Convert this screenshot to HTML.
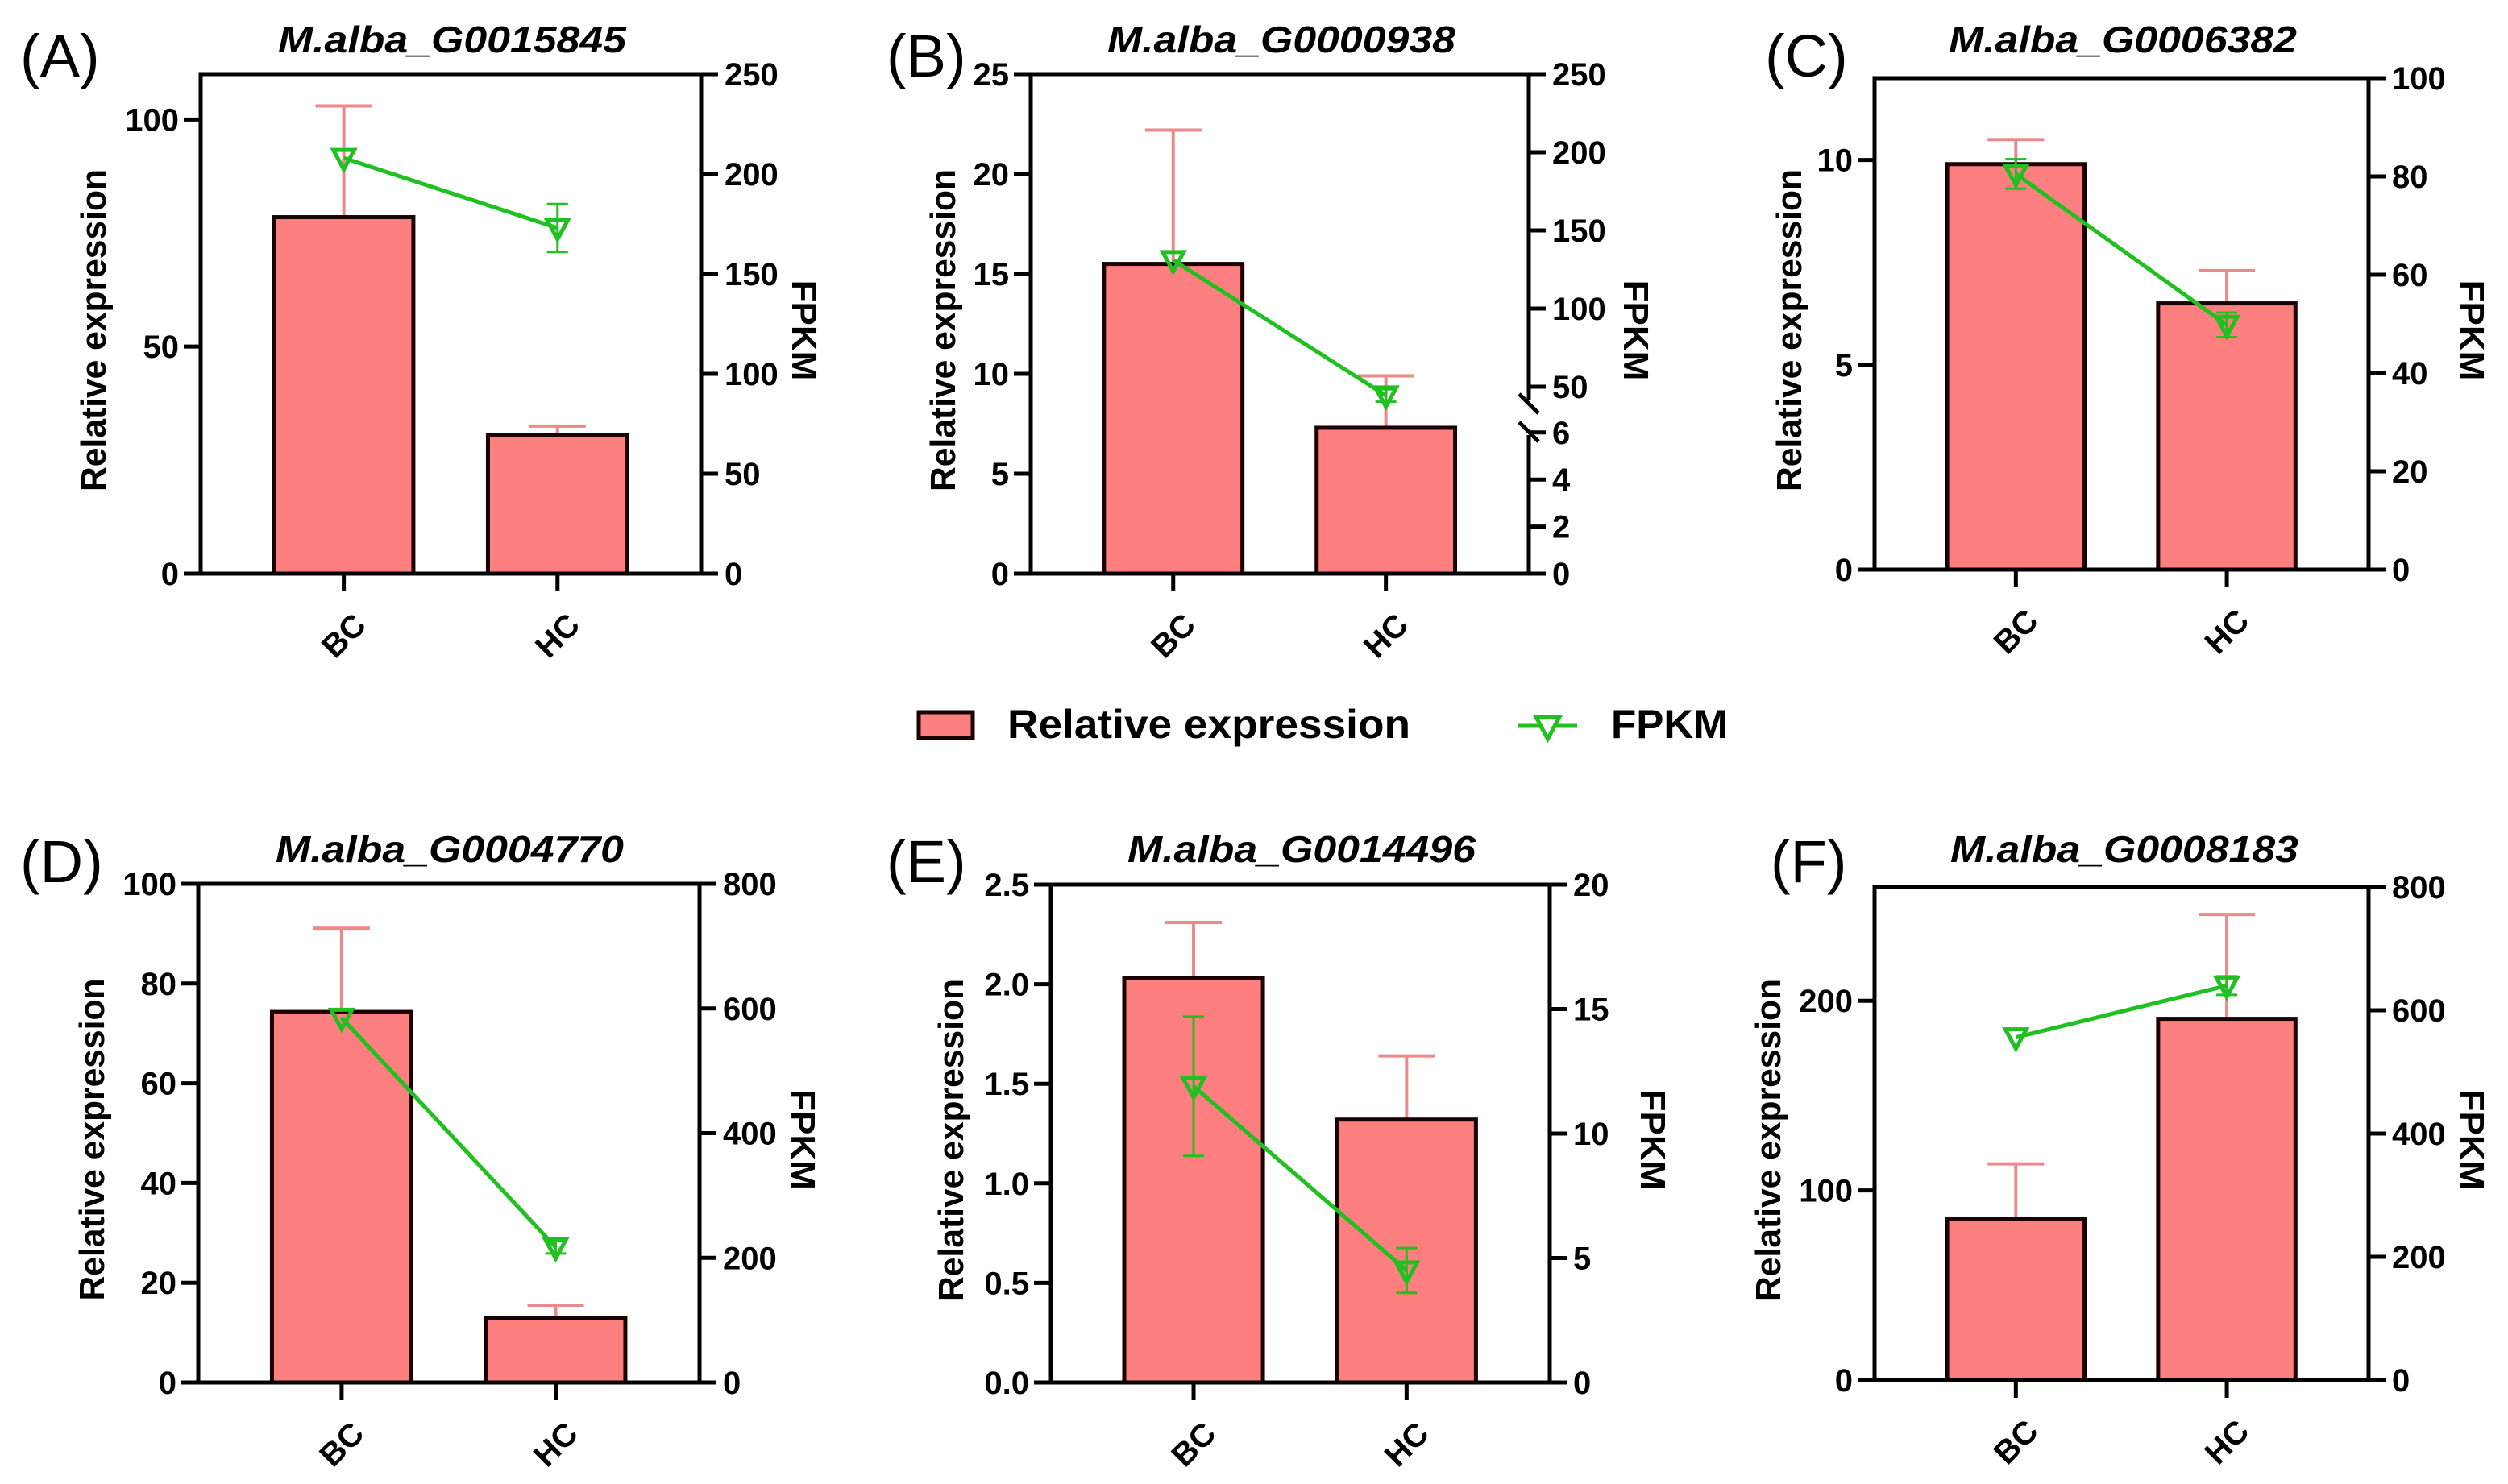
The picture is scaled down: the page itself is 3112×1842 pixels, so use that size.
<!DOCTYPE html>
<html><head><meta charset="utf-8"><style>
html,body{margin:0;padding:0;background:#fff;}
svg{display:block;font-family:"Liberation Sans",Arial,sans-serif;}
</style></head><body>
<svg id="fig" width="3112" height="1842" viewBox="0 0 3112 1842" xmlns="http://www.w3.org/2000/svg">
<g id="legend">
  <g>
    <rect x="1140" y="884" width="67" height="32" fill="#fd7f7f" stroke="#1a0000" stroke-width="5"/>
    <text x="1250" y="916" font-size="50" font-weight="bold" textLength="500" lengthAdjust="spacingAndGlyphs">Relative expression</text>
  </g>
  <g>
    <line x1="1884" y1="901" x2="1957" y2="901" stroke="#1fc01f" stroke-width="5"/>
    <polygon points="1906,890 1935,890 1920.5,917" fill="#fff" stroke="#1fc01f" stroke-width="5"/>
    <text x="1999" y="916" font-size="50" font-weight="bold" textLength="145" lengthAdjust="spacingAndGlyphs">FPKM</text>
  </g>
</g>
</svg>
<script>
const categories = ["BC", "HC"];
const geneTitles = ["M.alba_G0015845","M.alba_G0000938","M.alba_G0006382","M.alba_G0004770","M.alba_G0014496","M.alba_G0008183"];
const panelLetters = ["(A)","(B)","(C)","(D)","(E)","(F)"];

const relA = [78.5, 30.5];   const relSdA = [24.5, 2.0];
const fpkmA = [208, 173];    const fpkmSdA = [0, 12];
const relB = [15.5, 7.3];    const relSdB = [6.7, 2.6];
const fpkmB = [131, 44.4];   const fpkmSdB = [0, 4];
const relC = [9.9, 6.5];     const relSdC = [0.6, 0.8];
const fpkmC = [80.5, 49.8];  const fpkmSdC = [3, 2.5];
const relD = [74.3, 13.0];   const relSdD = [16.8, 2.5];
const fpkmD = [585, 217];    const fpkmSdD = [0, 10];
const relE = [2.03, 1.32];   const relSdE = [0.28, 0.32];
const fpkmE = [11.9, 4.5];   const fpkmSdE = [2.8, 0.9];
const relF = [85, 190.5];    const relSdF = [29, 55];
const fpkmF = [556, 640];    const fpkmSdF = [0, 15];

const leftTicksA = [0, 50, 100];            const rightTicksA = [0, 50, 100, 150, 200, 250];
const leftTicksB = [0, 5, 10, 15, 20, 25];  const rightTicksB = [0, 2, 4, 6, 50, 100, 150, 200, 250];
const leftTicksC = [0, 5, 10];              const rightTicksC = [0, 20, 40, 60, 80, 100];
const leftTicksD = [0, 20, 40, 60, 80, 100]; const rightTicksD = [0, 200, 400, 600, 800];
const leftTicksE = [0, 0.5, 1.0, 1.5, 2.0, 2.5]; const rightTicksE = [0, 5, 10, 15, 20];
const leftTicksF = [0, 100, 200];           const rightTicksF = [0, 200, 400, 600, 800];
const leftMaxes = [110, 25, 12, 100, 2.5, 260];
const rightMaxes = [250, 250, 100, 800, 20, 800];

const panels = [
  {rel:relA, relSd:relSdA, fpkm:fpkmA, fpkmSd:fpkmSdA, lt:leftTicksA, rt:rightTicksA, dec:0},
  {rel:relB, relSd:relSdB, fpkm:fpkmB, fpkmSd:fpkmSdB, lt:leftTicksB, rt:rightTicksB, dec:0, broken:true},
  {rel:relC, relSd:relSdC, fpkm:fpkmC, fpkmSd:fpkmSdC, lt:leftTicksC, rt:rightTicksC, dec:0},
  {rel:relD, relSd:relSdD, fpkm:fpkmD, fpkmSd:fpkmSdD, lt:leftTicksD, rt:rightTicksD, dec:0},
  {rel:relE, relSd:relSdE, fpkm:fpkmE, fpkmSd:fpkmSdE, lt:leftTicksE, rt:rightTicksE, dec:1},
  {rel:relF, relSd:relSdF, fpkm:fpkmF, fpkmSd:fpkmSdF, lt:leftTicksF, rt:rightTicksF, dec:0}
];
const layout = [
  {l:249, r:870, t:92, b:712, tx:561, ty:65, lx:25, ly:95, yt:-133, ft:128},
  {l:1279, r:1897, t:92, b:712, tx:1590, ty:65, lx:1100, ly:95, yt:-109, ft:133},
  {l:2326, r:2939, t:97, b:707, tx:2634, ty:65, lx:2190, ly:95, yt:-106, ft:128},
  {l:246, r:868, t:1097, b:1716, tx:558, ty:1070, lx:25, ly:1095, yt:-132, ft:128},
  {l:1304, r:1923, t:1098, b:1716, tx:1615, ty:1070, lx:1100, ly:1095, yt:-124, ft:128},
  {l:2326, r:2939, t:1101, b:1713, tx:2636, ty:1070, lx:2197, ly:1095, yt:-132, ft:128}
];

const NS = "http://www.w3.org/2000/svg";
const svg = document.getElementById("fig");
const BAR_FILL = "#fd7f7f", ERR = "#ea8a8a", GREEN = "#1fc01f";
function mk(tag, attrs, parent) {
  const e = document.createElementNS(NS, tag);
  for (const k in attrs) e.setAttribute(k, attrs[k]);
  parent.appendChild(e);
  return e;
}

panels.forEach((p, pi) => {
  const L = layout[pi];
  const g = mk("g", {}, svg);
  
  
  const w = L.r - L.l;
  const yL = v => L.b - v / leftMaxes[pi] * (L.b - L.t);
  let yR;
  if (p.broken) {
    const lowStep = 29.2, upZero = 480, upStep = 97 / 50;
    yR = v => v < 10 ? L.b - v * lowStep : upZero - (v - 50) * upStep;
  } else {
    yR = v => L.b - v / rightMaxes[pi] * (L.b - L.t);
  }
  const xC = i => L.l + w * (0.286 + i * 0.427);
  const bw = w * 0.278;

  categories.forEach((c, i) => {
    const top = yL(p.rel[i]);
    const eTop = yL(p.rel[i] + p.relSd[i]);
    const el = mk("line", {x1:xC(i), y1:top, x2:xC(i), y2:eTop, stroke:ERR, "stroke-width":4}, g);
    
    
    const cap = mk("line", {x1:xC(i)-35, y1:eTop, x2:xC(i)+35, y2:eTop, stroke:ERR, "stroke-width":4}, g);
    
    
    const bar = mk("rect", {x:xC(i)-bw/2, y:top, width:bw, height:L.b-top, fill:BAR_FILL, stroke:"#1a0000", "stroke-width":5}, g);
    
    
  });

  const ax = mk("path", {d:`M${L.l},${L.b} L${L.l},${L.t} L${L.r},${L.t} L${L.r},${L.b}`, fill:"none", stroke:"#000", "stroke-width":5}, g);
  
  
  if (p.broken) {
    ax.setAttribute("d", `M${L.l},${L.b} L${L.l},${L.t} L${L.r},${L.t} L${L.r},496 M${L.r},540 L${L.r},${L.b}`);
    mk("line", {x1:L.r-12, y1:489, x2:L.r+12, y2:513, stroke:"#000", "stroke-width":5}, g);
    mk("line", {x1:L.r-12, y1:524, x2:L.r+12, y2:548, stroke:"#000", "stroke-width":5}, g);
  }
  const base = mk("line", {x1:L.l-21, y1:L.b, x2:L.r+21, y2:L.b, stroke:"#000", "stroke-width":5}, g);
  
  

  p.lt.forEach(v => {
    const y = yL(v);
    mk("line", {x1:L.l-21, y1:y, x2:L.l, y2:y, stroke:"#000", "stroke-width":5}, g);
    const t = mk("text", {x:L.l-27, y:y+14, "font-size":40, "font-weight":"bold", "text-anchor":"end"}, g);
    t.textContent = v.toFixed(p.dec);
    
    
  });
  p.rt.forEach(v => {
    const y = yR(v);
    mk("line", {x1:L.r, y1:y, x2:L.r+21, y2:y, stroke:"#000", "stroke-width":5}, g);
    const t = mk("text", {x:L.r+29, y:y+14, "font-size":40, "font-weight":"bold"}, g);
    t.textContent = String(v);
    
    
  });
  categories.forEach((c, i) => {
    mk("line", {x1:xC(i), y1:L.b, x2:xC(i), y2:L.b+22, stroke:"#000", "stroke-width":5}, g);
    const px = xC(i) + 30, py = L.b + 66;
    const t = mk("text", {x:px, y:py, "font-size":40, "font-weight":"bold", "text-anchor":"end", transform:`rotate(-45 ${px} ${py})`}, g);
    t.textContent = c;
    
    
  });

  const pts = categories.map((c, i) => [xC(i), yR(p.fpkm[i])]);
  const ln = mk("polyline", {points:pts.map(q => q.join(",")).join(" "), fill:"none", stroke:GREEN, "stroke-width":5}, g);
  
  
  categories.forEach((c, i) => {
    const sd = p.fpkmSd[i];
    if (sd > 0) {
      const y1 = yR(p.fpkm[i] + sd), y2 = yR(p.fpkm[i] - sd), x = xC(i);
      const eb = mk("path", {d:`M${x},${y1} L${x},${y2} M${x-13},${y1} L${x+13},${y1} M${x-13},${y2} L${x+13},${y2}`, fill:"none", stroke:GREEN, "stroke-width":3}, g);
      
      
    }
    const [x, y] = pts[i];
    const m = mk("polygon", {points:`${x-13},${y-10} ${x+13},${y-10} ${x},${y+14}`, fill:"none", stroke:GREEN, "stroke-width":5}, g);
    
    
  });

  const tt = mk("text", {x:L.tx, y:L.ty, "font-size":46, "font-weight":"bold", "font-style":"italic", "text-anchor":"middle", textLength:432, lengthAdjust:"spacingAndGlyphs"}, g);
  tt.textContent = geneTitles[pi];
  
  
  const lt = mk("text", {x:L.lx, y:L.ly, "font-size":74}, g);
  lt.textContent = panelLetters[pi];
  
  
  const cy = (L.t + L.b) / 2 + 8;
  const ylx = L.l + L.yt;
  const yt = mk("text", {x:ylx, y:cy, "font-size":44, "font-weight":"bold", "text-anchor":"middle", transform:`rotate(-90 ${ylx} ${cy})`, dy:"15", textLength:400, lengthAdjust:"spacingAndGlyphs"}, g);
  yt.textContent = "Relative expression";
  
  
  const frx = L.r + L.ft;
  const fy = mk("text", {x:frx, y:cy, "font-size":44, "font-weight":"bold", "text-anchor":"middle", transform:`rotate(90 ${frx} ${cy})`, dy:"15"}, g);
  fy.textContent = "FPKM";
  
  
});
</script>
</body></html>
